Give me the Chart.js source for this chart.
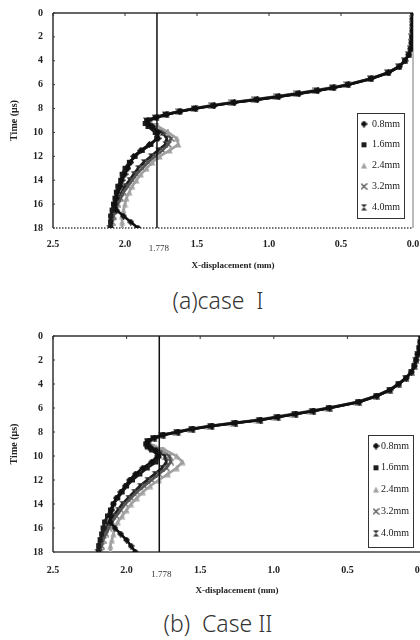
<!DOCTYPE html>
<html>
<head>
<meta charset="utf-8">
<script src="https://cdn.jsdelivr.net/npm/chart.js@4.4.1/dist/chart.umd.min.js"></script>
<style>
    html, body { margin: 0; padding: 0; background: #fff; overflow: hidden; width: 420px; height: 640px; }
    .plot { position: absolute; left: 0; }
    #wrapA { top: 0; width: 420px; height: 275px; }
    #wrapB { top: 320px; width: 430px; height: 280px; }
    .caption { position: absolute; left: 0; width: 436px; text-align: center; font-family: 'Noto Sans', sans-serif; font-weight: 300; font-size: 23px; color: #333; line-height: 28px; }
    #capA { top: 286px; }
    #capB { top: 609px; }
</style>
</head>
<body>
<div class="plot" id="wrapA"><canvas id="chartA"></canvas></div>
<div class="caption" id="capA">(a)case&nbsp; I</div>
<div class="plot" id="wrapB"><canvas id="chartB"></canvas></div>
<div class="caption" id="capB">(b)&nbsp; Case II</div>
<script>
(function () {
    'use strict';

    // time in microseconds (y axis), shared by every series
    var timeUs = [0, 0.5, 1, 1.5, 2, 2.5, 3, 3.5, 4, 4.5, 5, 5.5, 6, 6.25, 6.5, 6.75, 7, 7.25, 7.5, 7.75,
        8, 8.25, 8.5, 8.75, 9, 9.25, 9.5, 10, 10.5, 11, 11.5, 12, 12.5, 13, 13.5, 14, 14.5, 15, 15.5, 16,
        16.5, 17, 17.5, 18];

    var seriesLabels = ['0.8mm', '1.6mm', '2.4mm', '3.2mm', '4.0mm'];
    var markerX = 1.778;

    // case I, x-displacement (mm)
    var caseI_08 = [0, 0.001, 0.002, 0.004, 0.006, 0.009, 0.015, 0.028, 0.055, 0.095, 0.17, 0.29, 0.45, 0.55, 0.66, 0.79, 0.93, 1.08, 1.24, 1.38,
        1.51, 1.62, 1.71, 1.78, 1.84, 1.84, 1.81, 1.77, 1.77, 1.83, 1.89, 1.94, 1.96, 1.98, 2.00, 2.02, 2.03, 2.05, 2.06, 2.07,
        2.06, 2.01, 1.96, 1.91];
    var caseI_16 = [0, 0.001, 0.002, 0.004, 0.007, 0.010, 0.016, 0.030, 0.057, 0.098, 0.175, 0.295, 0.455, 0.56, 0.67, 0.80, 0.94, 1.09, 1.25, 1.39,
        1.52, 1.62, 1.72, 1.79, 1.85, 1.86, 1.84, 1.79, 1.78, 1.82, 1.88, 1.93, 1.97, 2.00, 2.02, 2.03, 2.05, 2.06, 2.07, 2.08,
        2.09, 2.10, 2.10, 2.10];
    var caseI_24 = [0, 0.001, 0.003, 0.005, 0.008, 0.011, 0.018, 0.032, 0.06, 0.10, 0.18, 0.30, 0.47, 0.57, 0.69, 0.82, 0.96, 1.11, 1.27, 1.41,
        1.53, 1.63, 1.72, 1.79, 1.84, 1.82, 1.77, 1.70, 1.64, 1.63, 1.69, 1.76, 1.81, 1.85, 1.89, 1.92, 1.95, 1.97, 1.99, 2.00,
        2.01, 2.02, 2.02, 2.02];
    var caseI_32 = [0, 0.001, 0.002, 0.004, 0.007, 0.010, 0.017, 0.030, 0.058, 0.099, 0.176, 0.297, 0.46, 0.56, 0.68, 0.81, 0.95, 1.10, 1.26, 1.40,
        1.52, 1.63, 1.72, 1.79, 1.85, 1.83, 1.79, 1.72, 1.68, 1.70, 1.74, 1.79, 1.84, 1.88, 1.92, 1.95, 1.98, 2.01, 2.03, 2.05,
        2.07, 2.08, 2.09, 2.10];
    var caseI_40 = [0, 0.001, 0.002, 0.004, 0.006, 0.009, 0.015, 0.029, 0.056, 0.096, 0.172, 0.292, 0.45, 0.55, 0.67, 0.80, 0.94, 1.09, 1.25, 1.39,
        1.51, 1.62, 1.71, 1.78, 1.84, 1.84, 1.80, 1.74, 1.71, 1.72, 1.77, 1.82, 1.87, 1.91, 1.94, 1.97, 2.00, 2.02, 2.04, 2.06,
        2.08, 2.09, 2.10, 2.11];

    // case II, x-displacement (mm)
    var caseII_08 = [0, 0.005, 0.012, 0.022, 0.033, 0.045, 0.065, 0.10, 0.15, 0.21, 0.30, 0.42, 0.62, 0.73, 0.85, 0.97, 1.09, 1.26, 1.42, 1.55,
        1.65, 1.75, 1.81, 1.85, 1.86, 1.84, 1.80, 1.79, 1.83, 1.89, 1.94, 1.98, 2.01, 2.04, 2.07, 2.09, 2.10, 2.11, 2.11, 2.08,
        2.04, 2.00, 1.97, 1.94];
    var caseII_16 = [0, 0.005, 0.012, 0.023, 0.034, 0.047, 0.067, 0.103, 0.154, 0.215, 0.305, 0.43, 0.63, 0.74, 0.86, 0.98, 1.10, 1.27, 1.43, 1.56,
        1.66, 1.76, 1.82, 1.86, 1.87, 1.86, 1.83, 1.78, 1.80, 1.86, 1.91, 1.96, 2.00, 2.03, 2.06, 2.09, 2.11, 2.13, 2.15, 2.16,
        2.17, 2.18, 2.19, 2.19];
    var caseII_24 = [0, 0.006, 0.013, 0.024, 0.036, 0.049, 0.07, 0.107, 0.16, 0.22, 0.31, 0.44, 0.64, 0.76, 0.88, 1.00, 1.12, 1.29, 1.45, 1.57,
        1.67, 1.76, 1.82, 1.85, 1.84, 1.80, 1.74, 1.66, 1.62, 1.66, 1.72, 1.78, 1.84, 1.89, 1.93, 1.97, 2.00, 2.03, 2.06, 2.08,
        2.09, 2.10, 2.11, 2.11];
    var caseII_32 = [0, 0.005, 0.012, 0.022, 0.034, 0.046, 0.066, 0.102, 0.152, 0.213, 0.303, 0.425, 0.625, 0.74, 0.86, 0.98, 1.10, 1.27, 1.43, 1.56,
        1.66, 1.76, 1.82, 1.86, 1.86, 1.83, 1.77, 1.71, 1.70, 1.73, 1.78, 1.83, 1.88, 1.93, 1.97, 2.01, 2.04, 2.07, 2.10, 2.12,
        2.14, 2.16, 2.17, 2.18];
    var caseII_40 = [0, 0.005, 0.012, 0.022, 0.033, 0.045, 0.065, 0.10, 0.15, 0.21, 0.30, 0.42, 0.62, 0.73, 0.85, 0.97, 1.09, 1.26, 1.42, 1.55,
        1.65, 1.75, 1.81, 1.85, 1.86, 1.84, 1.79, 1.74, 1.73, 1.76, 1.81, 1.86, 1.91, 1.95, 1.99, 2.03, 2.06, 2.09, 2.12, 2.14,
        2.16, 2.18, 2.19, 2.20];

    var serif = "'Liberation Serif', 'Times New Roman', serif";
    var lineColors = ['#111', '#1c1c1c', '#a0a0a0', '#555', '#222'];
    var markerKinds = ['diamond', 'square', 'triangle', 'cross', 'hourglass'];

    function makeMarker(kind, color) {
        var c = document.createElement('canvas');
        c.width = 7;
        c.height = 7;
        var g = c.getContext('2d');
        g.fillStyle = color;
        g.strokeStyle = color;
        g.lineWidth = 1.3;
        g.beginPath();
        if (kind === 'diamond') {
            g.moveTo(3.5, 0); g.lineTo(7, 3.5); g.lineTo(3.5, 7); g.lineTo(0, 3.5); g.closePath(); g.fill();
        } else if (kind === 'square') {
            g.fillRect(1, 1, 5, 5);
        } else if (kind === 'triangle') {
            g.moveTo(3.5, 0.5); g.lineTo(6.5, 6.5); g.lineTo(0.5, 6.5); g.closePath(); g.fill();
        } else if (kind === 'cross') {
            g.moveTo(0.5, 0.5); g.lineTo(6.5, 6.5); g.moveTo(6.5, 0.5); g.lineTo(0.5, 6.5); g.stroke();
        } else {
            g.moveTo(0.5, 0.5); g.lineTo(6.5, 0.5); g.lineTo(0.5, 6.5); g.lineTo(6.5, 6.5); g.closePath(); g.fill();
        }
        return c;
    }

    var markers = markerKinds.map(function (k, i) { return makeMarker(k, lineColors[i]); });

    function toPoints(vals) {
        return vals.map(function (v, i) { return { x: v, y: timeUs[i] }; });
    }

    var framePlugin = {
        id: 'frame',
        beforeDatasetsDraw: function (chart, args, o) {
            var a = chart.chartArea;
            var ctx = chart.ctx;
            var xs = chart.scales.x;
            var ys = chart.scales.y;
            ctx.save();
            ctx.lineWidth = 1.5;
            ctx.strokeStyle = '#333';
            ctx.beginPath();
            ctx.moveTo(a.left, a.top); ctx.lineTo(a.right, a.top);
            ctx.moveTo(a.left, a.top); ctx.lineTo(a.left, a.bottom);
            ctx.stroke();
            // small ticks on the top edge and inside the left edge
            ctx.lineWidth = 1;
            xs.ticks.forEach(function (t) {
                var px = xs.getPixelForValue(t.value);
                ctx.beginPath(); ctx.moveTo(px, a.top); ctx.lineTo(px, a.top + 3); ctx.stroke();
            });
            ys.ticks.forEach(function (t) {
                var py = ys.getPixelForValue(t.value);
                ctx.beginPath(); ctx.moveTo(a.left, py); ctx.lineTo(a.left + 2, py); ctx.stroke();
            });
            ctx.strokeStyle = '#777';
            ctx.lineWidth = 1;
            ctx.beginPath(); ctx.moveTo(a.right, a.top); ctx.lineTo(a.right, a.bottom); ctx.stroke();
            ctx.strokeStyle = '#444';
            ctx.lineWidth = 1.3;
            if (o.dotted) ctx.setLineDash([1.5, 1.5]);
            ctx.beginPath(); ctx.moveTo(a.left, a.bottom); ctx.lineTo(a.right, a.bottom); ctx.stroke();
            ctx.restore();
        },
        afterDraw: function (chart, args, o) {
            var a = chart.chartArea;
            var ctx = chart.ctx;
            var xs = chart.scales.x;
            ctx.save();
            // the 1.778 label under the axis
            ctx.fillStyle = '#333';
            ctx.font = '9px ' + serif;
            ctx.textAlign = 'center';
            ctx.textBaseline = 'middle';
            ctx.fillText(String(markerX), xs.getPixelForValue(markerX) + 2, a.bottom + o.markLabelDy);

            // legend box inside the plot
            var L = o.legend;
            var bx = a.right - L.right - L.w;
            var by = a.bottom - L.bottom - L.h;
            ctx.fillStyle = '#fff';
            ctx.fillRect(bx, by, L.w, L.h);
            ctx.strokeStyle = '#333';
            ctx.lineWidth = 1;
            ctx.strokeRect(bx + 0.5, by + 0.5, L.w, L.h);
            ctx.textAlign = 'left';
            ctx.font = '10px ' + serif;
            ctx.fillStyle = '#222';
            seriesLabels.forEach(function (lab, i) {
                var y = by + L.firstDy + i * L.rowGap;
                ctx.drawImage(markers[i], bx + L.markerDx - 3.5, y - 3.5);
                ctx.fillText(lab, bx + L.textDx, y);
            });
            ctx.restore();
        }
    };

    function makeChart(id, series, opts) {
        var datasets = [{
            data: [{ x: markerX, y: 0 }, { x: markerX, y: 18 }],
            borderColor: '#111',
            borderWidth: 1.5,
            pointRadius: 0,
            showLine: true
        }];
        series.forEach(function (vals, i) {
            datasets.push({
                label: seriesLabels[i],
                data: toPoints(vals),
                showLine: true,
                borderColor: lineColors[i],
                borderWidth: 2.6,
                pointStyle: markers[i],
                pointRadius: 3
            });
        });

        var tickFont = { family: serif, size: 10, weight: 'bold' };
        return new Chart(document.getElementById(id), {
            type: 'scatter',
            data: { datasets: datasets },
            plugins: [framePlugin],
            options: {
                responsive: true,
                maintainAspectRatio: false,
                animation: false,
                layout: { padding: opts.padding },
                plugins: {
                    legend: { display: false },
                    tooltip: { enabled: false },
                    frame: { dotted: opts.dotted, legend: opts.legend, markLabelDy: opts.markLabelDy }
                },
                scales: {
                    x: {
                        type: 'linear',
                        reverse: true,
                        min: 0,
                        max: 2.5,
                        grid: { display: false, drawTicks: false },
                        border: { display: false },
                        ticks: {
                            stepSize: 0.5,
                            padding: opts.xTickPad,
                            color: '#222',
                            font: tickFont,
                            maxRotation: 0,
                            callback: function (v) { return v.toFixed(1); }
                        },
                        title: {
                            display: true,
                            text: 'X-displacement (mm)',
                            color: '#222',
                            font: { family: serif, size: 9, weight: 'bold' },
                            padding: { top: 2, bottom: 4 }
                        },
                        afterFit: function (s) {
                            // fixed box, labels may hang over the plot edges
                            s.height = opts.xAxisHeight;
                            s.paddingLeft = 0;
                            s.paddingRight = 0;
                        }
                    },
                    y: {
                        type: 'linear',
                        reverse: true,
                        min: 0,
                        max: 18,
                        grid: { display: false, drawTicks: false },
                        border: { display: false },
                        ticks: { stepSize: 2, padding: 10, color: '#222', font: tickFont },
                        title: {
                            display: true,
                            text: 'Time (μs)',
                            color: '#222',
                            font: { family: serif, size: 10, weight: 'bold' },
                            padding: { top: 8, bottom: 0 }
                        },
                        afterFit: function (s) {
                            s.width = 53;
                            s.paddingTop = 0;
                            s.paddingBottom = 0;
                        }
                    }
                }
            }
        });
    }

    makeChart('chartA', [caseI_08, caseI_16, caseI_24, caseI_32, caseI_40], {
        padding: { top: 13, right: 7, bottom: 0, left: 0 },
        xAxisHeight: 47,
        xTickPad: 10,
        dotted: true,
        markLabelDy: 21,
        legend: { right: 9, bottom: 10, w: 47, h: 105, markerDx: 7, textDx: 15, firstDy: 11, rowGap: 20.8 }
    });

    makeChart('chartB', [caseII_08, caseII_16, caseII_24, caseII_32, caseII_40], {
        padding: { top: 16, right: 9, bottom: 0, left: 0 },
        xAxisHeight: 48,
        xTickPad: 12,
        dotted: false,
        markLabelDy: 23,
        legend: { right: 8, bottom: 5, w: 45, h: 112, markerDx: 8, textDx: 13, firstDy: 11, rowGap: 21.8 }
    });
})();
</script>
</body>
</html>
